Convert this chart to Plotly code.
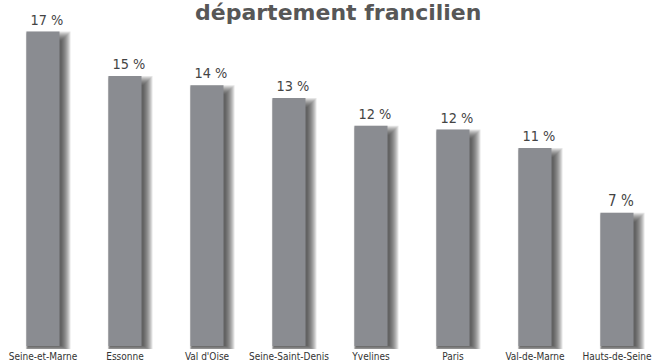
import plotly.graph_objects as go

# ---- data ----
departements = ["Seine-et-Marne", "Essonne", "Val d'Oise", "Seine-Saint-Denis",
                "Yvelines", "Paris", "Val-de-Marne", "Hauts-de-Seine"]
parts = [17.0, 14.6, 14.1, 13.4, 11.9, 11.7, 10.7, 7.2]
title_text = "département francilien"

# ---- geometry helpers (pixels -> data units) ----
PX_Y = 18.5   # px per percentage point
PX_X = 82.0   # px per category
BAR_W = 33.0
BAR_COLOR = "#8A8C91"

fig = go.Figure()
xs = list(range(len(departements)))

# soft drop shadow built from stacked translucent layers
for e in range(10):
    base = -(0 + e * 0.6) / PX_Y
    tops = [v + (-9 + e) / PX_Y for v in parts]
    fig.add_trace(go.Bar(
        x=xs,
        y=[t - base for t in tops],
        base=base,
        offset=(-BAR_W / 2 + 2 - e * 0.3) / PX_X,
        width=(BAR_W + 1.3 * e) / PX_X,
        marker=dict(color="rgba(40,40,40,0.12)", line=dict(width=0)),
        hoverinfo="skip",
        showlegend=False,
    ))

# main bars
fig.add_trace(go.Bar(
    x=xs,
    y=parts,
    offset=-BAR_W / 2 / PX_X,
    width=BAR_W / PX_X,
    marker=dict(color=BAR_COLOR, line=dict(width=0)),
    showlegend=False,
))

# value labels (centred over bar + shadow)
fig.add_trace(go.Bar(
    x=xs,
    y=parts,
    offset=(-BAR_W / 2 + 4) / PX_X,
    width=BAR_W / PX_X,
    marker=dict(color="rgba(0,0,0,0)", line=dict(width=0)),
    text=[f"{round(v)} %" for v in parts],
    textposition="outside",
    textfont=dict(family="DejaVu Sans Condensed, Liberation Sans Narrow, sans-serif",
                  size=15, color="#444444"),
    cliponaxis=False,
    hoverinfo="skip",
    showlegend=False,
))

fig.add_annotation(
    text=title_text, xref="paper", yref="paper",
    x=338.5 / 660, y=1 - 27 / 349, xanchor="center", yanchor="bottom",
    showarrow=False,
    font=dict(family="DejaVu Sans, sans-serif", size=22, color="#575757", weight="bold"),
)

fig.update_layout(
    width=660, height=363,
    margin=dict(l=2, r=2, t=0, b=14),
    paper_bgcolor="white", plot_bgcolor="white",
    barmode="overlay",
    xaxis=dict(
        tickmode="array", tickvals=xs, ticktext=departements,
        range=[-0.5, len(departements) - 0.5],
        showgrid=False, zeroline=False, showline=False, ticks="",
        tickfont=dict(family="DejaVu Sans Condensed, Liberation Sans Narrow, sans-serif",
                      size=10, color="#333333"),
    ),
    yaxis=dict(range=[-3 / PX_Y, 349 / PX_Y - 3 / PX_Y], visible=False,
               showgrid=False, zeroline=False),
)

fig.write_html("out.html")
